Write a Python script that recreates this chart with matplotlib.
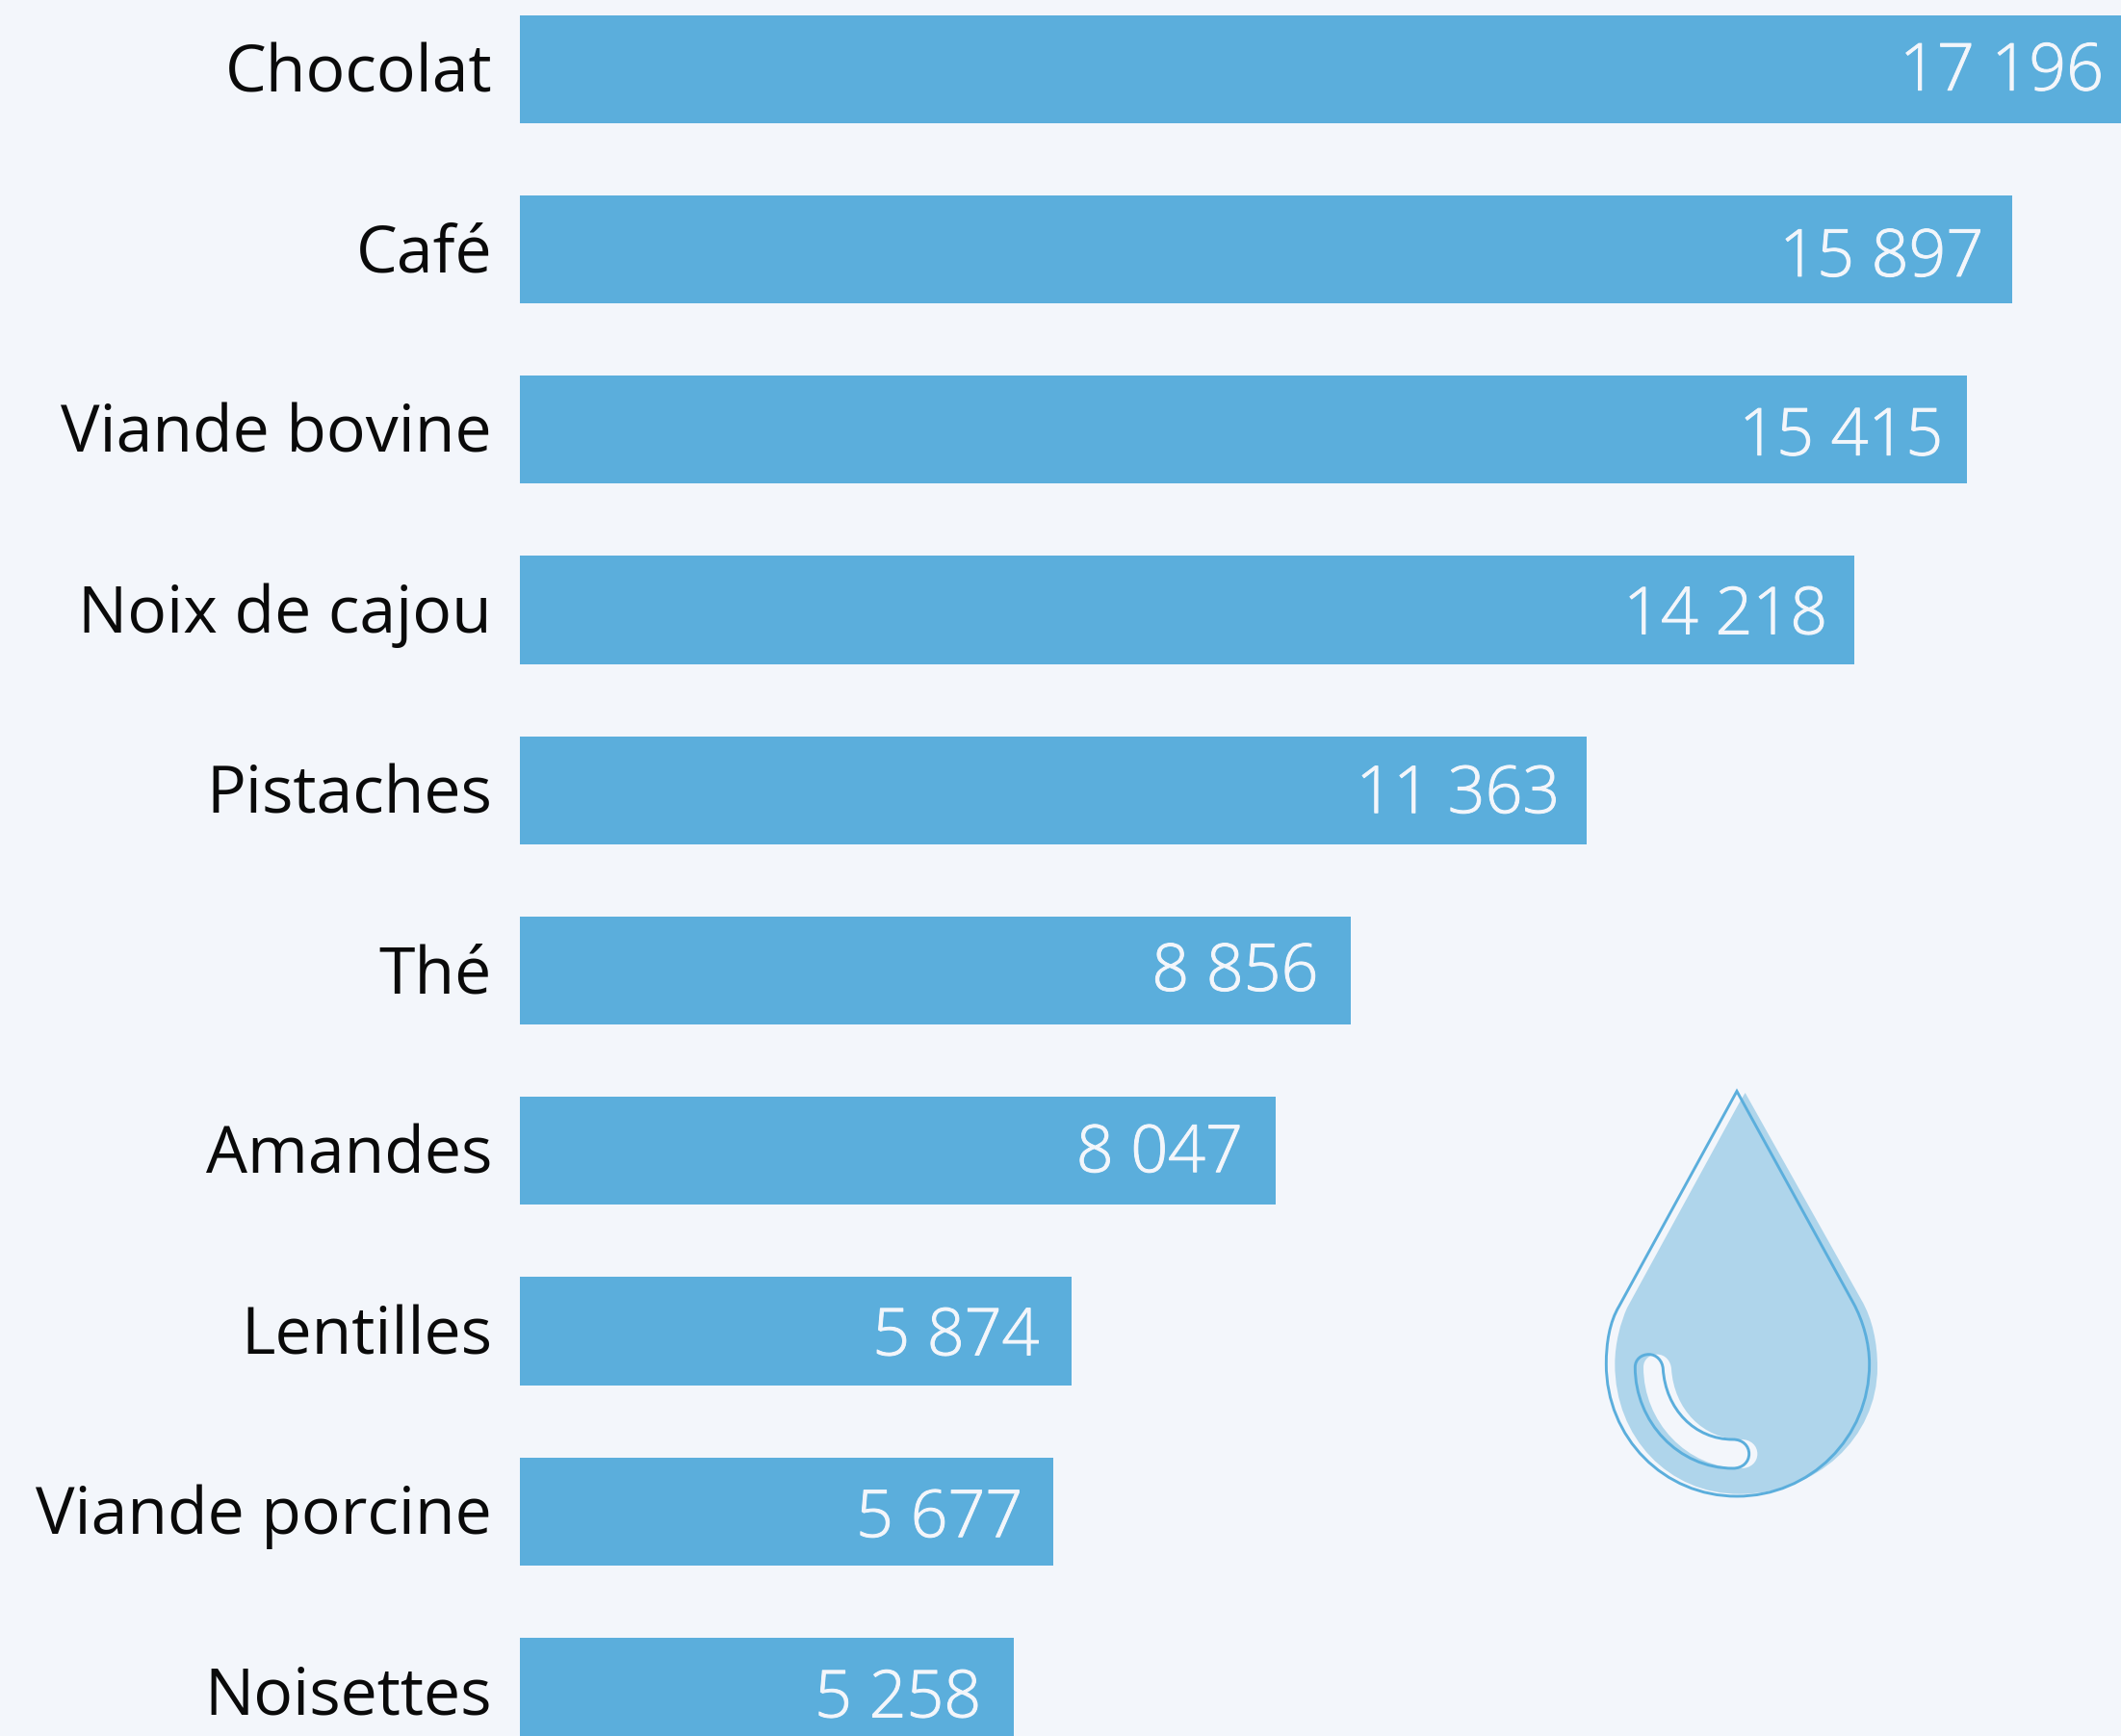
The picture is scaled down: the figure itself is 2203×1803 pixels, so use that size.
#!/usr/bin/env python3
"""Water footprint bars: horizontal bars with a water drop icon."""

import matplotlib
matplotlib.use('Agg')
import matplotlib.pyplot as plt
import matplotlib.patheffects as pe
import numpy as np
from matplotlib.patches import PathPatch
from matplotlib.path import Path

# Data
foods = ['Chocolat', 'Café', 'Viande bovine', 'Noix de cajou', 'Pistaches',
         'Thé', 'Amandes', 'Lentilles', 'Viande porcine', 'Noisettes']
litres = [17196, 15897, 15415, 14218, 11363, 8856, 8047, 5874, 5677, 5258]

# The value labels are not evenly placed in the original (px down / px right)
value_drop = [4, 10, 8.5, 7, 5.5, 3, 4, 7, 8.5, 8.5]
value_shift = [-2, 0, 5, 1.5, 2, -4, -4, -3.5, -1.5, -3.5]

BG = '#f3f6fb'
BAR = '#5baedc'
DROP = '#afd5eb'

W, H = 2203, 1803
PT = 0.72  # points per pixel at dpi=100
plt.rcParams['font.family'] = ['Open Sans', 'DejaVu Sans']

fig = plt.figure(figsize=(W / 100, H / 100), dpi=100, facecolor=BG)
ax = fig.add_axes([0, 0, 1, 1], facecolor=BG)

# Scale: value 0 sits at x=540px, 0.0975 px per litre (first bar runs off the edge)
PX_PER_L = 0.0975
ax.set_xlim(-540 / PX_PER_L, (W - 540) / PX_PER_L)
# Rows: 187.25 px apart, first centre at 71.7 px
ax.set_ylim((H - 71.7) / 187.25, -71.7 / 187.25)

y = np.arange(len(foods))
ax.barh(y, litres, height=0.6, color=BAR, linewidth=0)

for i, (food, val) in enumerate(zip(foods, litres)):
    ax.annotate(food, xy=(0, i), xytext=(-29 * PT, -6 * PT), textcoords='offset points',
                ha='right', va='center', fontsize=49, color='#0a0a0a')
    label = f'{val:,}'.replace(',', ' ')
    ax.annotate(label, xy=(val, i), xytext=((value_shift[i] - 30) * PT, -value_drop[i] * PT),
                textcoords='offset points', ha='right', va='center', fontsize=49,
                color=BG, fontweight='light', annotation_clip=False,
                path_effects=[pe.withStroke(linewidth=0.7, foreground=BG)])

ax.axis('off')

# Drop icon, traced in its own pixel space
icon = fig.add_axes([0, 0, 1, 1], facecolor='none')
icon.set_xlim(0, W)
icon.set_ylim(H, 0)
icon.axis('off')


def bezier(start, segments, dx=0, dy=0):
    # segments: lines (1 point) or cubic curves (3 points), tracing coords 1/3 px
    verts = [start]
    codes = [Path.MOVETO]
    for seg in segments:
        verts.extend(seg)
        codes.extend([Path.LINETO] if len(seg) == 1 else [Path.CURVE4] * 3)
    verts.append(start)
    codes.append(Path.CLOSEPOLY)
    pts = [(1600 + (px + dx) / 3, 1100 + (py + dy) / 3) for px, py in verts]
    return Path(pts, codes)


fill_shape = bezier((638, 105), [[(1000, 750)],
                                 [(1035, 810), (1050, 885), (1050, 960)],
                                 [(1050, 1180), (860, 1355), (620, 1355)],
                                 [(400, 1355), (232, 1180), (232, 950)],
                                 [(232, 885), (250, 820), (270, 775)],
                                 [(620, 135)]])
outline = bezier((612, 100), [[(245, 770)],
                              [(215, 820), (205, 885), (205, 950)],
                              [(205, 1180), (385, 1362), (612, 1362)],
                              [(840, 1362), (1025, 1180), (1025, 950)],
                              [(1025, 885), (1005, 815), (975, 760)]])
gleam = [[(295, 935), (315, 920), (338, 920)],
         [(362, 920), (380, 940), (382, 965)],
         [(390, 1090), (480, 1185), (600, 1185)],
         [(630, 1185), (650, 1205), (650, 1230)],
         [(650, 1255), (630, 1275), (600, 1275)],
         [(430, 1275), (295, 1130), (295, 960)]]

icon.add_patch(PathPatch(fill_shape, facecolor=DROP, edgecolor='none'))
icon.add_patch(PathPatch(bezier((295, 960), gleam, dx=26), facecolor=BG, edgecolor='none'))
icon.add_patch(PathPatch(outline, facecolor='none', edgecolor=BAR, linewidth=2.1))
icon.add_patch(PathPatch(bezier((295, 960), gleam), facecolor='none', edgecolor=BAR, linewidth=2.1))

fig.savefig('out.png', dpi=100, facecolor=BG)
